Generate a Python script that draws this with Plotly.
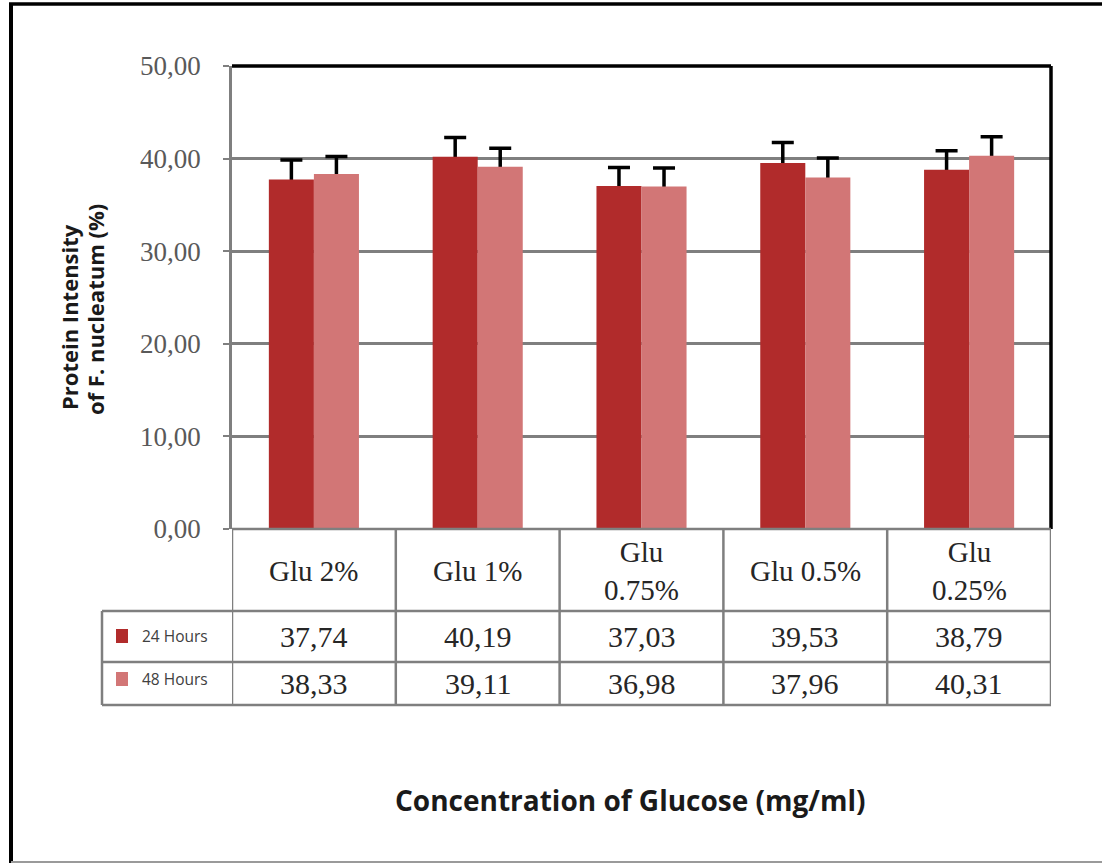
import plotly.graph_objects as go

categories = ["Glu 2%", "Glu 1%", "Glu 0.75%", "Glu 0.5%", "Glu 0.25%"]
table_labels = ["Glu 2%", "Glu 1%", "Glu<br>0.75%", "Glu 0.5%", "Glu<br>0.25%"]
hours24 = [37.74, 40.19, 37.03, 39.53, 38.79]
hours48 = [38.33, 39.11, 36.98, 37.96, 40.31]
err24 = [2.1, 2.1, 2.0, 2.2, 2.05]
err48 = [1.9, 2.0, 2.0, 2.1, 2.05]
series_names = ["24 Hours", "48 Hours"]
y_ticks = [0, 10, 20, 30, 40, 50]

W, H = 1102, 865
L, R, T, B = 232, 1051, 66, 529  # plot area in pixels
PW, PH = R - L, B - T


def px(p):
    return (p - L) / PW


def py(p):
    return (B - p) / PH


c24 = "#b12b2b"
c48 = "#d27676"

fig = go.Figure()
# error bars (drawn beneath the bars so only the upper part shows)
for vals, errs, grp in [(hours24, err24, "a"), (hours48, err48, "b")]:
    fig.add_trace(go.Scatter(
        x=categories, y=vals, mode="markers", offsetgroup=grp,
        marker=dict(size=2, opacity=0), hoverinfo="skip", showlegend=False,
        error_y=dict(type="data", array=errs, arrayminus=vals, symmetric=False,
                     color="black", thickness=3.5, width=11),
        xaxis="x", yaxis="y",
    ))
# bars on an overlaying axis (drawn on top)
for vals, name, col, grp in [(hours24, series_names[0], c24, "a"),
                             (hours48, series_names[1], c48, "b")]:
    fig.add_trace(go.Bar(
        x=categories, y=vals, name=name, marker_color=col, marker_line_width=0,
        offsetgroup=grp, xaxis="x", yaxis="y2",
    ))

grid = "#7f7f7f"
shapes = []
# plot border: top and right black
shapes.append(dict(type="line", xref="paper", yref="paper", x0=0, x1=1, y0=1, y1=1,
                   line=dict(color="black", width=3.5)))
shapes.append(dict(type="line", xref="paper", yref="paper", x0=1, x1=1, y0=0, y1=1,
                   line=dict(color="black", width=3.5)))

# table horizontal lines
y_rows = [529, 611, 662, 705]
for i, yy in enumerate(y_rows):
    x0 = 0 if i == 0 else px(102)
    shapes.append(dict(type="line", xref="paper", yref="paper", x0=x0, x1=1,
                       y0=py(yy), y1=py(yy), line=dict(color=grid, width=2.5)))
# table vertical lines (category boundaries)
n = len(categories)
for k in range(n + 1):
    shapes.append(dict(type="line", xref="x", yref="paper", x0=k - 0.5, x1=k - 0.5,
                       y0=py(529), y1=py(705), line=dict(color=grid, width=2.5)))
shapes.append(dict(type="line", xref="paper", yref="paper", x0=px(102), x1=px(102),
                   y0=py(611), y1=py(705), line=dict(color=grid, width=2.5)))

# legend keys
for yy, col in [(636, c24), (679, c48)]:
    shapes.append(dict(type="rect", xref="paper", yref="paper",
                       x0=px(116), x1=px(128), y0=py(yy - 7), y1=py(yy + 7),
                       fillcolor=col, line=dict(width=0)))

# outer border
shapes.append(dict(type="line", xref="paper", yref="paper", x0=px(9), x1=px(1102),
                   y0=py(4), y1=py(4), line=dict(color="black", width=3.5)))
shapes.append(dict(type="line", xref="paper", yref="paper", x0=px(11), x1=px(11),
                   y0=py(3), y1=py(863), line=dict(color="black", width=4)))
shapes.append(dict(type="line", xref="paper", yref="paper", x0=px(11), x1=px(1102),
                   y0=py(862), y1=py(862), line=dict(color="#9a9a9a", width=2)))

annotations = []
serif = "Liberation Serif"
for cat, lab in zip(categories, table_labels):
    annotations.append(dict(x=cat, xref="x", y=py(571), yref="paper", text=lab,
                            showarrow=False, font=dict(family=serif, size=29, color="#262626"),
                            xanchor="center", yanchor="middle"))
for row_y, vals in [(636, hours24), (683, hours48)]:
    for cat, v in zip(categories, vals):
        annotations.append(dict(x=cat, xref="x", y=py(row_y), yref="paper",
                                text=f"{v:.2f}".replace(".", ","), showarrow=False,
                                font=dict(family=serif, size=30, color="#262626"),
                                xanchor="center", yanchor="middle"))
for row_y, name in [(636, series_names[0]), (679, series_names[1])]:
    annotations.append(dict(x=px(140), xref="paper", y=py(row_y), yref="paper", text=name,
                            showarrow=False, xanchor="left", yanchor="middle",
                            font=dict(family="Open Sans", size=15.5, color="#404040")))

# axis titles
annotations.append(dict(x=px(630), xref="paper", y=py(800), yref="paper",
                        text="<b>Concentration of Glucose (mg/ml)</b>", showarrow=False,
                        xanchor="center", yanchor="middle",
                        font=dict(family="Open Sans", size=28, color="#1a1a1a")))
for xx, yy, line in [(69, 317, "Protein Intensity"), (95, 310, "of F. nucleatum (%)")]:
    annotations.append(dict(x=px(xx), xref="paper", y=py(yy), yref="paper",
                            text=f"<b>{line}</b>", showarrow=False, textangle=-90,
                            xanchor="center", yanchor="middle",
                            font=dict(family="Open Sans", size=22, color="#1a1a1a")))

fig.update_layout(
    width=W, height=H,
    margin=dict(l=L, r=W - R, t=T, b=H - B, pad=0),
    paper_bgcolor="white", plot_bgcolor="white",
    barmode="group", bargap=0.45, bargroupgap=0,
    scattermode="group", scattergap=0.45,
    showlegend=False,
    separators=",.",
    shapes=shapes, annotations=annotations,
    xaxis=dict(showticklabels=False, showgrid=False, ticks="", showline=False,
               range=[-0.5, n - 0.5], fixedrange=True),
    yaxis=dict(range=[0, 50], tickvals=y_ticks, tickformat=".2f",
               showgrid=True, gridcolor=grid, gridwidth=2.5,
               showline=True, linecolor=grid, linewidth=2.5,
               ticks="outside", ticklen=6, tickcolor=grid, tickwidth=2,
               ticklabelstandoff=17,
               tickfont=dict(family=serif, size=27, color="#595959"),
               zeroline=False, fixedrange=True),
    yaxis2=dict(range=[0, 50], overlaying="y", visible=False, fixedrange=True),
)

fig.write_html("out.html", config={"displayModeBar": False},
               post_script="document.body.style.margin='0px';")
